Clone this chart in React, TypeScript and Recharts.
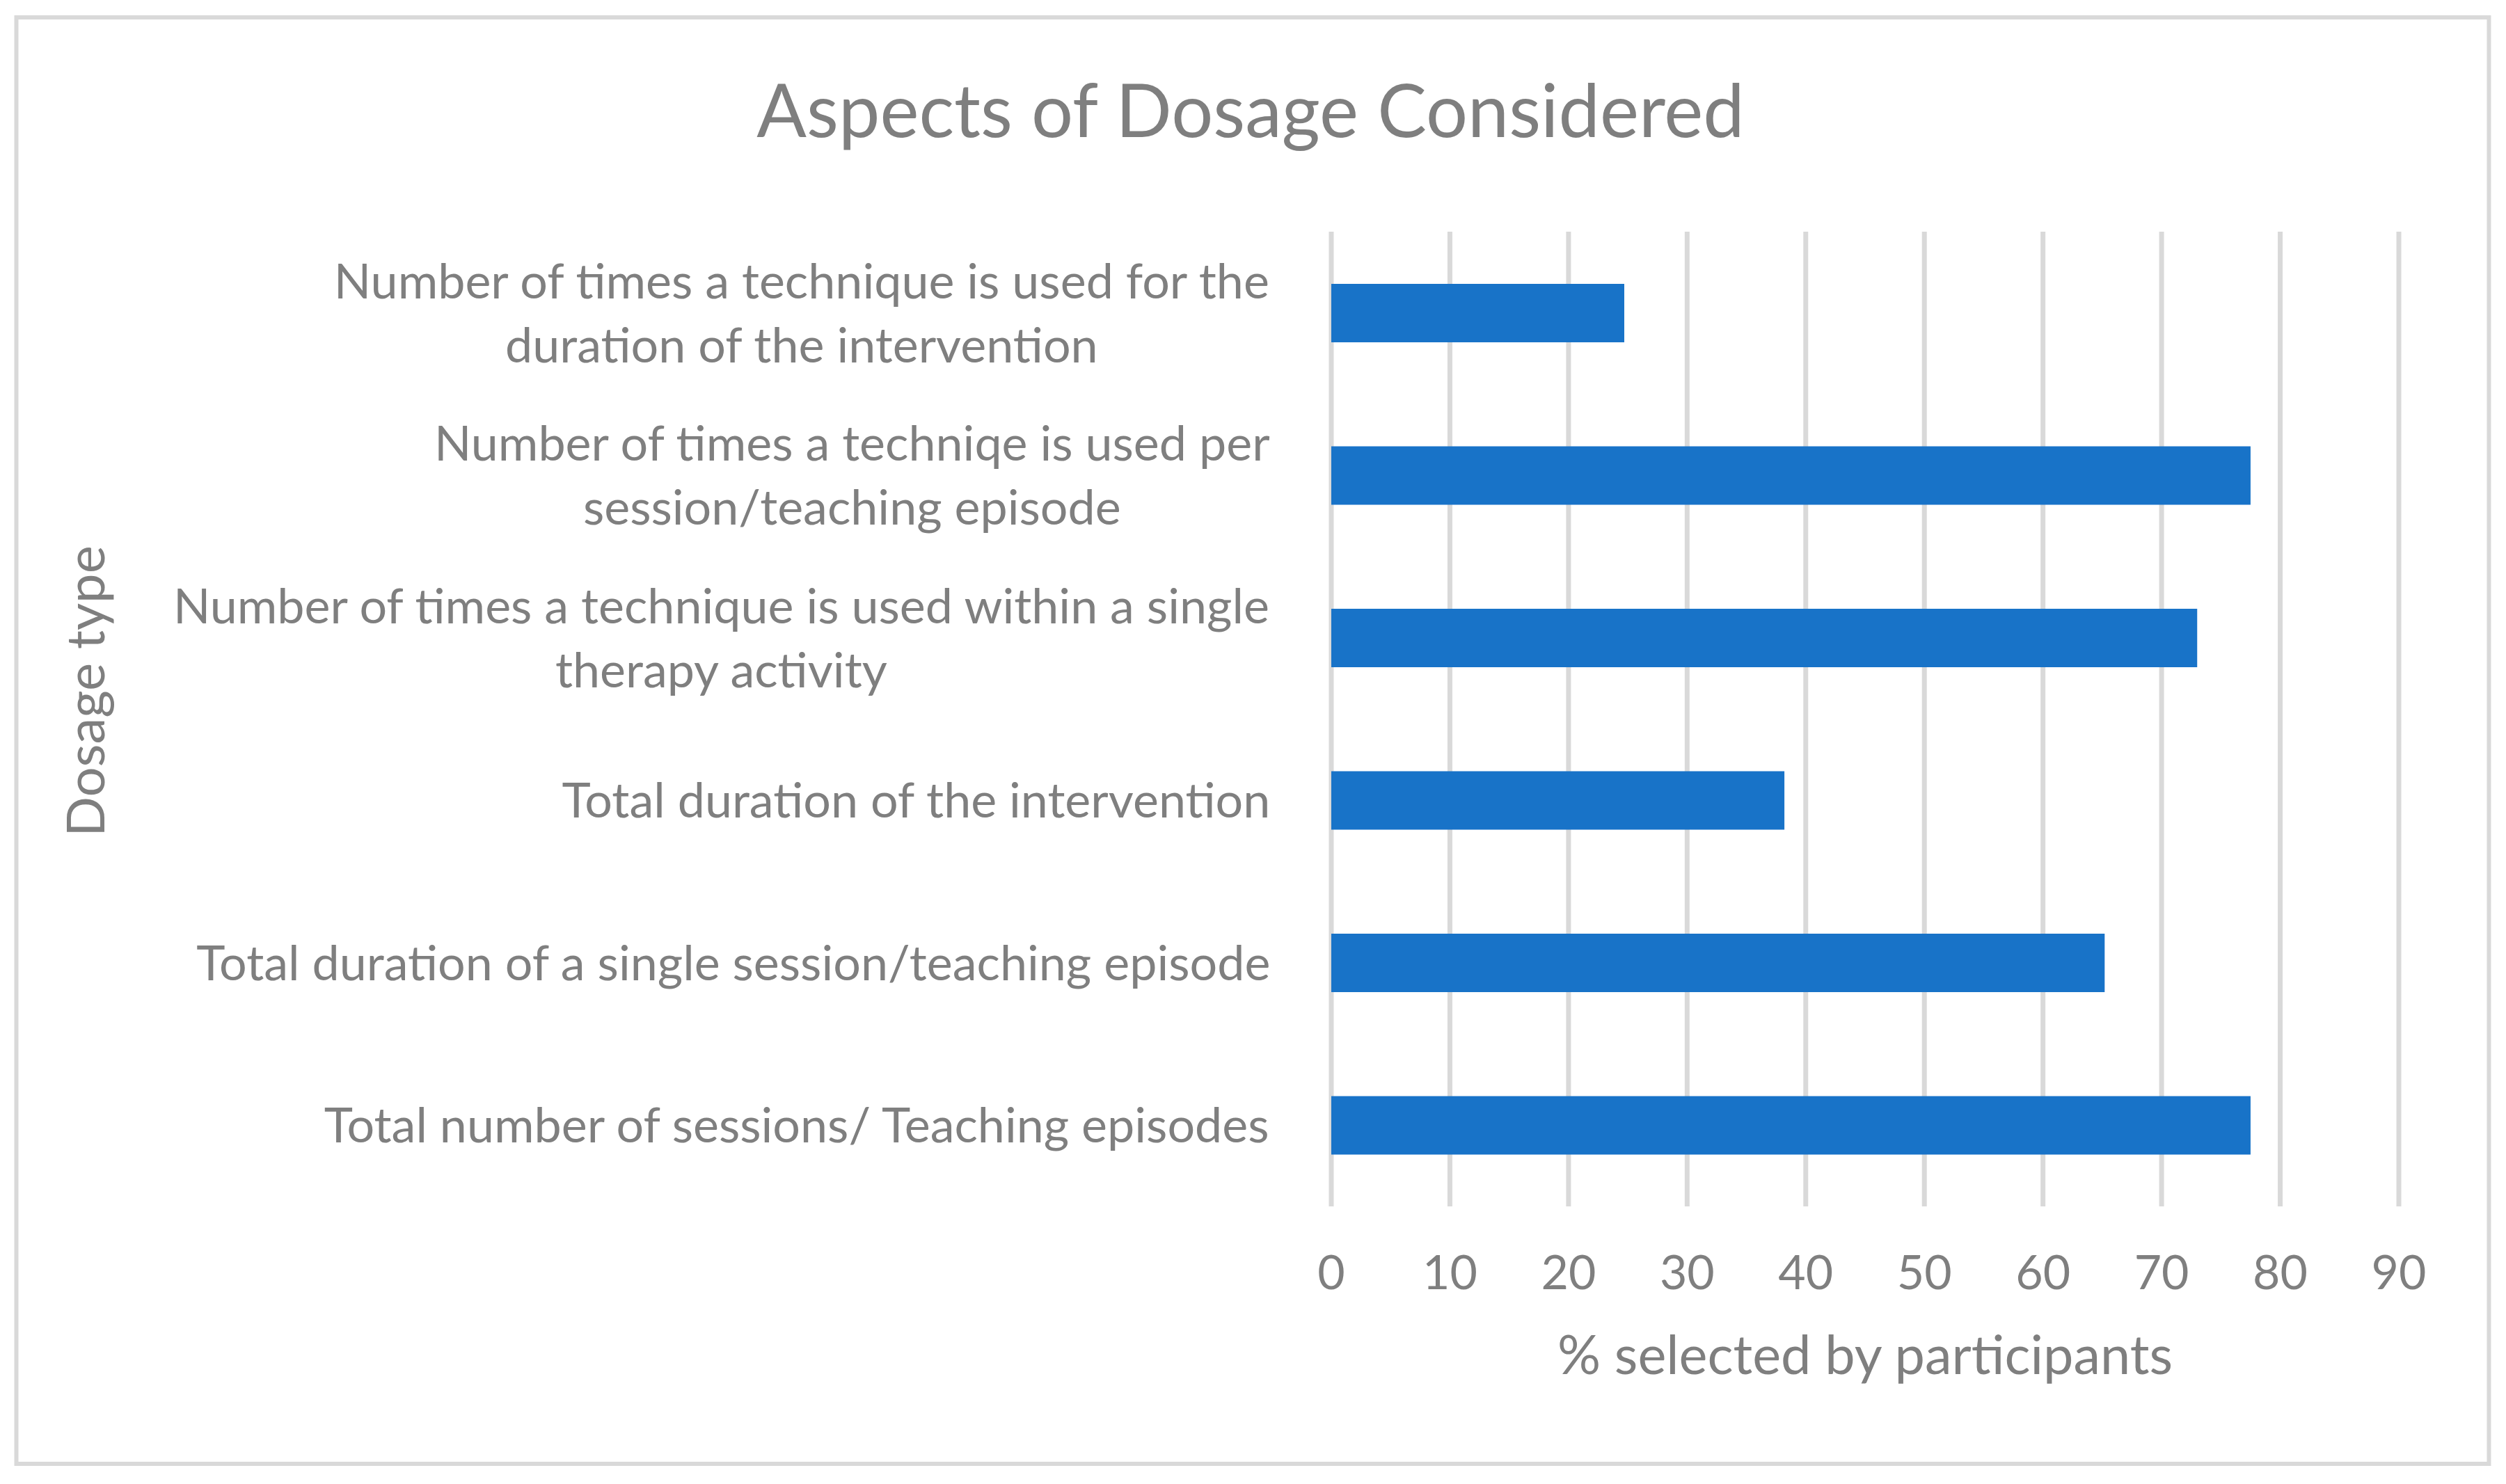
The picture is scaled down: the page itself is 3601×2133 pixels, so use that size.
import React from 'react';
import { BarChart, Bar, XAxis, YAxis, CartesianGrid, Label } from 'recharts';

// Dosage types, top to bottom (line breaks as wrapped in the original)
const categories = [
  'Number of times a technique is used for the\nduration of the intervention',
  'Number of times a techniqe is used per\nsession/teaching episode',
  'Number of times a technique is used within a single\ntherapy activity',
  'Total duration of the intervention',
  'Total duration of a single session/teaching episode',
  'Total number of sessions/ Teaching episodes',
];

// % selected by participants
const percentSelected = [24.7, 77.5, 73.0, 38.2, 65.2, 77.5];

const xTicks = [0, 10, 20, 30, 40, 50, 60, 70, 80, 90];

const FONT = 'Lato, "Open Sans", sans-serif';
const TEXT = '#7f7f7f';
const GRID = '#d9d9d9';
const BAR = '#1873c8';

const data = categories.map((category, i) => ({ category, value: percentSelected[i] }));

let measureCtx: CanvasRenderingContext2D | null = null;
const measure = (s: string, size: number) => {
  if (!measureCtx) measureCtx = document.createElement('canvas').getContext('2d');
  if (!measureCtx) return s.length * size * 0.47;
  measureCtx.font = `${size}px Lato`;
  return measureCtx.measureText(s).width;
};

const CategoryTick = (props: any) => {
  const { x, y, payload } = props;
  const size = 70;
  const lines: string[] = String(payload.value).split('\n');
  const blockW = Math.max(...lines.map(l => measure(l, size)));
  const right = x - 87;
  const cx = right - blockW / 2;
  const lineH = 92;
  const startY = y - ((lines.length - 1) * lineH) / 2;
  return (
    <g>
      {lines.map((l, i) => (
        <text
          key={i}
          x={cx}
          y={startY + i * lineH}
          dy="0.36em"
          textAnchor="middle"
          fill={TEXT}
          fontSize={size}
          fontFamily={FONT}
        >
          {l}
        </text>
      ))}
    </g>
  );
};

const ValueTick = (props: any) => {
  const { x, y, payload } = props;
  return (
    <text x={x} y={y + 119} textAnchor="middle" fill={TEXT} fontSize={68} fontFamily={FONT}>
      {payload.value}
    </text>
  );
};

export default function App() {
  return (
    <div style={{ position: 'absolute', left: 0, top: 0, width: 3601, height: 2133, background: '#fff' }}>
      <svg width={3601} height={2133} style={{ position: 'absolute', left: 0, top: 0 }}>
        <rect x={23.5} y={25} width={3553} height={2079} fill="none" stroke={GRID} strokeWidth={6} />
        <text x={1797} y={197} textAnchor="middle" fill={TEXT} fontSize={106} fontFamily={FONT}>
          Aspects of Dosage Considered
        </text>
      </svg>
      <div style={{ position: 'absolute', left: 0, top: 0 }}>
        <BarChart
          width={3601}
          height={2133}
          data={data}
          layout="vertical"
          margin={{ top: 333, right: 154, bottom: 0, left: 100 }}
        >
          <CartesianGrid horizontal={false} stroke={GRID} strokeWidth={7} />
          <XAxis
            type="number"
            domain={[0, 90]}
            ticks={xTicks}
            interval={0}
            axisLine={false}
            tickLine={false}
            tickSize={0}
            tickMargin={0}
            height={399}
            tick={<ValueTick />}
          >
            <Label
              content={({ viewBox }: any) => (
                <text
                  x={viewBox.x + viewBox.width / 2}
                  y={viewBox.y + 241}
                  textAnchor="middle"
                  fill={TEXT}
                  fontSize={77.5}
                  fontFamily={FONT}
                >
                  % selected by participants
                </text>
              )}
            />
          </XAxis>
          <YAxis
            type="category"
            dataKey="category"
            width={1813}
            interval={0}
            axisLine={false}
            tickLine={false}
            tickSize={0}
            tickMargin={0}
            tick={<CategoryTick />}
          >
            <Label
              content={({ viewBox }: any) => {
                const lx = viewBox.x + 50;
                const ly = viewBox.y + viewBox.height / 2 - 40;
                return (
                  <text
                    x={lx}
                    y={ly}
                    transform={`rotate(-90, ${lx}, ${ly})`}
                    textAnchor="middle"
                    fill={TEXT}
                    fontSize={76}
                    fontFamily={FONT}
                  >
                    Dosage type
                  </text>
                );
              }}
            />
          </YAxis>
          <Bar dataKey="value" fill={BAR} barSize={84} isAnimationActive={false} />
        </BarChart>
      </div>
    </div>
  );
}
